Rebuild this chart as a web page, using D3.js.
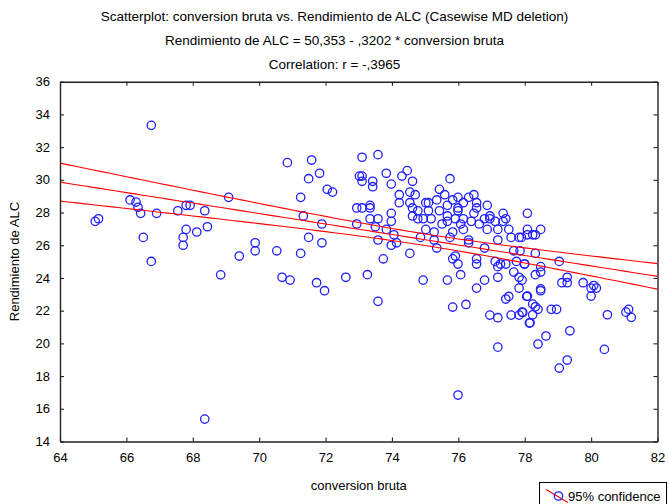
<!DOCTYPE html>
<html>
<head>
<meta charset="utf-8">
<script src="https://cdn.jsdelivr.net/npm/d3@7"></script>
<style>
  html, body { margin: 0; padding: 0; background: #fff; }
  svg { display: block; font-family: "Liberation Sans", Arial, sans-serif; }
</style>
</head>
<body>
<svg id="chart" width="669" height="504"></svg>
<script>
// conversion bruta (x) and Rendimiento de ALC (y), one entry per case
const conversionBruta = [
  65.06, 65.16, 66.11, 66.29, 66.35, 66.43, 66.51, 66.75, 66.75, 66.91,
  67.55, 67.80, 67.92, 67.80, 67.71, 67.71, 68.12, 68.36, 68.44, 68.84,
  69.08, 69.40, 69.88, 69.88, 68.36,
  70.85, 71.58, 73.10, 73.58, 71.82, 71.49, 73.02, 73.10, 73.10, 73.42,
  73.42, 73.83, 73.98, 72.05, 72.21, 71.25, 72.94, 73.10, 73.34, 73.34,
  73.98, 71.33, 73.34, 73.58, 73.98, 71.89, 72.94, 73.50, 73.83, 71.49,
  71.89, 73.58, 73.98, 70.53, 71.25, 73.74, 70.69, 70.93, 71.73, 71.97,
  72.61, 73.26, 73.58,
  74.46, 74.30, 74.62, 75.75, 74.22, 74.22, 74.54, 74.70, 74.54, 74.62,
  75.43, 75.59, 75.02, 75.10, 75.35, 75.83, 75.99, 76.15, 76.31, 76.47,
  76.55, 76.87, 75.67, 74.78, 75.10, 75.43, 75.99, 75.99, 76.55, 75.67,
  76.47, 74.62, 74.78, 74.94, 75.18, 75.67, 75.91, 76.15, 76.39, 76.63,
  76.79, 76.95, 76.95, 77.11, 77.35, 77.43, 77.35, 78.08, 75.51, 76.07,
  75.02, 75.27, 75.83, 76.15, 76.87, 77.19, 77.52, 78.08, 74.06, 74.86,
  75.27, 75.75, 76.31, 77.19, 77.59, 77.83, 78.08, 74.14, 75.35, 76.31,
  76.79, 77.67, 74.54, 75.83, 75.91, 76.55, 76.55, 75.99, 77.11, 77.27,
  77.43, 77.19, 77.75, 77.99, 76.07, 77.67, 74.94, 75.67, 76.79, 77.19,
  77.83, 76.55, 77.83,
  75.83, 76.23, 76.95, 77.19, 77.43, 77.52, 78.06, 77.59, 77.83, 77.94,
  78.14, 77.19, 75.99,
  78.48, 78.24, 78.32, 77.90, 77.86, 78.32, 79.04, 78.00, 78.48, 78.48,
  78.32, 77.92, 79.28, 79.12, 79.28, 79.76, 80.08, 80.16, 80.00, 78.48,
  78.48, 78.08, 80.00, 78.24, 78.32, 78.40, 78.80, 78.96, 77.92, 78.24,
  78.16, 80.49, 81.05, 81.13, 81.21, 79.36, 78.64, 78.40, 80.40, 79.28,
  79.04
];
const rendimientoALC = [
  27.46, 27.62, 28.77, 28.64, 28.32, 27.95, 26.48, 33.33, 25.01, 27.95,
  28.11, 28.44, 28.44, 26.97, 26.48, 26.00, 26.81, 28.11, 27.13, 24.19,
  28.93, 25.34, 26.15, 25.66, 15.37,
  31.05, 31.21, 31.38, 31.54, 30.40, 30.07, 30.23, 30.23, 29.91, 29.91,
  29.58, 30.40, 29.74, 29.42, 29.25, 28.93, 28.28, 28.28, 28.44, 28.28,
  27.95, 27.79, 27.62, 27.62, 27.46, 27.30, 27.30, 27.13, 26.97, 26.48,
  26.15, 26.32, 26.00, 25.66, 25.50, 25.17, 24.04, 23.87, 23.71, 23.22,
  24.04, 24.20, 22.57,
  30.56, 30.23, 29.91, 30.07, 29.09, 28.60, 29.25, 29.09, 28.60, 28.28,
  29.42, 29.09, 28.60, 28.60, 28.77, 28.77, 28.93, 28.60, 28.93, 29.09,
  28.60, 28.44, 28.44, 28.11, 28.11, 28.11, 28.28, 28.11, 28.28, 27.79,
  27.95, 27.79, 27.62, 27.62, 27.62, 27.46, 27.62, 27.62, 27.46, 27.30,
  27.62, 27.62, 27.79, 27.46, 27.95, 27.62, 27.46, 27.95, 27.30, 27.30,
  26.97, 26.81, 26.81, 26.97, 26.97, 26.97, 26.97, 26.97, 26.64, 26.48,
  26.32, 26.48, 26.32, 26.32, 26.48, 26.48, 26.64, 26.15, 25.83, 26.15,
  25.83, 25.66, 25.50, 25.17, 25.34, 25.17, 24.85, 24.85, 25.01, 24.85,
  24.85, 24.69, 25.01, 24.85, 24.20, 24.36, 23.87, 23.87, 23.87, 24.04,
  24.04, 23.38, 23.38,
  22.22, 22.38, 21.73, 21.57, 22.71, 22.87, 22.87, 21.73, 21.73, 21.89,
  21.24, 19.77, 16.84,
  26.97, 26.64, 26.64, 26.48, 25.66, 25.50, 25.01, 24.85, 24.69, 24.36,
  24.20, 23.87, 24.04, 23.71, 23.71, 23.71, 23.54, 23.38, 23.38, 23.33,
  23.22, 22.89, 22.89, 22.40, 22.24, 22.08, 22.08, 22.08, 21.91, 21.75,
  21.26, 21.75, 21.91, 22.08, 21.59, 20.77, 20.45, 19.96, 19.63, 18.98,
  18.49
];

// fitted line: Rendimiento de ALC = 50,353 - ,3202 * conversion bruta
const intercept = 50.353;
const slope = -0.3202;

const xTicks = [64, 66, 68, 70, 72, 74, 76, 78, 80, 82];
const yTicks = [14, 16, 18, 20, 22, 24, 26, 28, 30, 32, 34, 36];

const titleLines = [
  "Scatterplot: conversion bruta vs. Rendimiento de ALC (Casewise MD deletion)",
  "Rendimiento de ALC = 50,353 - ,3202  * conversion bruta",
  "Correlation: r = -,3965"
];
const xTitle = "conversion bruta";
const yTitle = "Rendimiento de ALC";
const legendLabel = "95% confidence";

const svg = d3.select("#chart");
const W = 669;
const plot = { left: 60, right: 657.5, top: 81.7, bottom: 441.5 };

const x = d3.scaleLinear().domain([64, 82]).range([plot.left, plot.right]);
const y = d3.scaleLinear().domain([14, 36]).range([plot.bottom, plot.top]);

const points = conversionBruta.map((v, i) => ({ x: v, y: rendimientoALC[i] }));

// 95% confidence band for the mean response around the fitted line
const n = points.length;
const xMean = d3.mean(points, d => d.x);
const sxx = d3.sum(points, d => (d.x - xMean) ** 2);
const sse = d3.sum(points, d => (d.y - (intercept + slope * d.x)) ** 2);
const sErr = Math.sqrt(sse / (n - 2));
const tCrit = 1.97;
const fit = v => intercept + slope * v;
const half = v => tCrit * sErr * Math.sqrt(1 / n + (v - xMean) ** 2 / sxx);
const xs = d3.range(64, 82.001, 0.25);

svg.append("defs").append("clipPath").attr("id", "plotClip")
  .append("rect")
  .attr("x", plot.left).attr("y", plot.top)
  .attr("width", plot.right - plot.left).attr("height", plot.bottom - plot.top);

// titles
svg.append("g").selectAll("text").data(titleLines).join("text")
  .attr("x", W / 2)
  .attr("y", (d, i) => 21 + i * 24)
  .attr("text-anchor", "middle")
  .attr("font-size", 13.5)
  .attr("fill", "#000")
  .text(d => d);

// points
const g = svg.append("g").attr("clip-path", "url(#plotClip)");
g.selectAll("circle").data(points).join("circle")
  .attr("cx", d => x(d.x))
  .attr("cy", d => y(d.y))
  .attr("r", 4.2)
  .attr("fill", "none")
  .attr("stroke", "#1f1fff")
  .attr("stroke-width", 1.3);

// regression line and confidence limits
const lineGen = f => d3.line().x(v => x(v)).y(v => y(f(v)))(xs);
[v => fit(v) + half(v), v => fit(v), v => fit(v) - half(v)].forEach(f => {
  g.append("path")
    .attr("d", lineGen(f))
    .attr("fill", "none")
    .attr("stroke", "#ff0000")
    .attr("stroke-width", 1.1);
});

// axes with inward ticks on all four sides
const axisStyle = sel => {
  sel.selectAll(".domain").attr("stroke", "#222").attr("stroke-width", 1.4);
  sel.selectAll(".tick line").attr("stroke", "#222").attr("stroke-width", 1.1);
  sel.selectAll("text").attr("font-size", 13).attr("fill", "#000")
    .attr("font-family", "'Liberation Sans', Arial, sans-serif");
};

svg.append("g")
  .attr("transform", `translate(0,${plot.bottom})`)
  .call(d3.axisBottom(x).tickValues(xTicks).tickFormat(d3.format("d"))
    .tickSizeInner(-4).tickSizeOuter(0).tickPadding(11))
  .call(axisStyle);

svg.append("g")
  .attr("transform", `translate(0,${plot.top})`)
  .call(d3.axisTop(x).tickValues(xTicks).tickFormat("")
    .tickSizeInner(-4).tickSizeOuter(0))
  .call(axisStyle);

svg.append("g")
  .attr("transform", `translate(${plot.left},0)`)
  .call(d3.axisLeft(y).tickValues(yTicks).tickFormat(d3.format("d"))
    .tickSizeInner(-4).tickSizeOuter(0).tickPadding(10))
  .call(axisStyle);

svg.append("g")
  .attr("transform", `translate(${plot.right},0)`)
  .call(d3.axisRight(y).tickValues(yTicks).tickFormat("")
    .tickSizeInner(-4).tickSizeOuter(0))
  .call(axisStyle);

// axis titles
svg.append("text")
  .attr("x", (plot.left + plot.right) / 2)
  .attr("y", 490)
  .attr("text-anchor", "middle")
  .attr("font-size", 13)
  .text(xTitle);

svg.append("text")
  .attr("transform", `translate(19,${(plot.top + plot.bottom) / 2}) rotate(-90)`)
  .attr("text-anchor", "middle")
  .attr("font-size", 13)
  .text(yTitle);

// legend
const lg = svg.append("g");
lg.append("rect")
  .attr("x", 539.5).attr("y", 482.5)
  .attr("width", 127).attr("height", 30)
  .attr("fill", "#fff").attr("stroke", "#000").attr("stroke-width", 1);
lg.append("line")
  .attr("x1", 546).attr("y1", 489.5).attr("x2", 568).attr("y2", 502.5)
  .attr("stroke", "#ff0000").attr("stroke-width", 1.1);
lg.append("circle")
  .attr("cx", 558.5).attr("cy", 496).attr("r", 4.2)
  .attr("fill", "none").attr("stroke", "#1f1fff").attr("stroke-width", 1.3);
lg.append("text")
  .attr("x", 568).attr("y", 500.5)
  .attr("font-size", 13)
  .text(legendLabel);
</script>
</body>
</html>
